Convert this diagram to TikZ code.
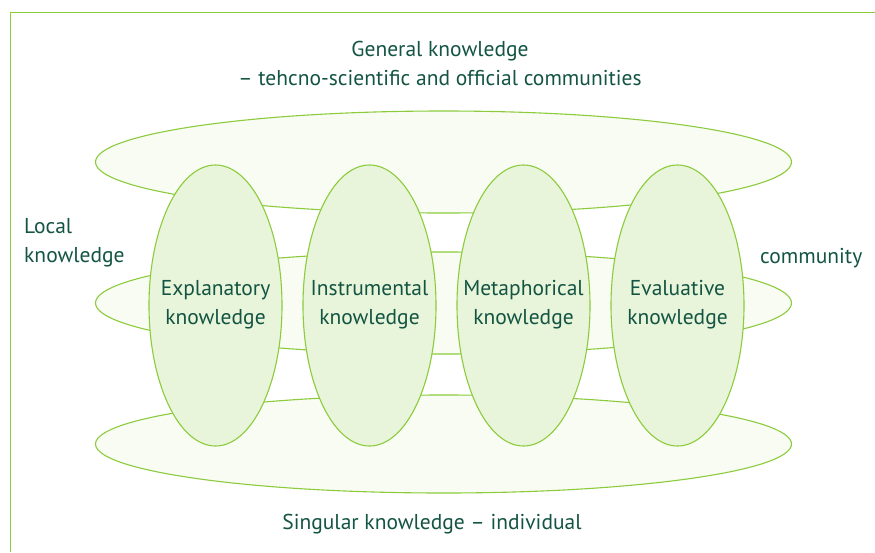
\documentclass[tikz,border=0pt]{standalone}
\usepackage{fontspec}
\setmainfont{PT Sans}
\usetikzlibrary{shapes.geometric}

\definecolor{leaf}{HTML}{8CCB3C}
\definecolor{leaffill}{HTML}{E8F5DA}
\definecolor{palefill}{HTML}{F8FCF3}
\definecolor{ink}{HTML}{135443}

\begin{document}
\begin{tikzpicture}[x=1pt, y=-1pt,
	layer/.style={ellipse, draw=leaf, fill=palefill, line width=1.1pt, inner sep=0pt, minimum width=696pt, minimum height=102pt},
	kind/.style={ellipse, draw=leaf, fill=leaffill, line width=1.1pt, inner sep=0pt, minimum width=133pt, minimum height=281pt},
	note/.style={text=ink, inner sep=0pt, align=center, font=\fontsize{21.5}{29}\selectfont}
]

	\def\cx{443.5} % centre of the layers
	
	\def\dx{154} % distance between the kinds
	
	\useasboundingbox (0, 0) rectangle (875, 552);
	\draw[leaf, line width=1pt] (10.5, 552) -- (10.5, 12.5) -- (875, 12.5);
	
	% the three layers, behind
	\node[layer] (general) at (\cx, 162) {};
	\node[layer] (local) at (\cx, 303) {};
	\node[layer, minimum height=98pt] (singular) at (\cx, 444) {};
	
	% the four kinds of knowledge
	\foreach \name/\txt [count=\i from 0] in {explanatory/Explanatory, instrumental/Instrumental, metaphorical/Metaphorical, evaluative/Evaluative} {
		\node[kind] (\name) at (215.5+\i*\dx, 305.5) {};
		\node[note] (\name txt) at ([yshift=1pt]\name.center) {\txt\\knowledge};
	}
	
	\node[note] (generaltxt) at (440, 63.5) {General knowledge\\– tehcno-scientific and official communities};
	\node[note, anchor=west, align=left] (localtxt) at (24, 243) {Local\\knowledge};
	\node[note, anchor=west] (communitytxt) at (760, 258) {community};
	\node[note] (singulartxt) at (432, 524) {Singular knowledge – individual};

\end{tikzpicture}
\end{document}
